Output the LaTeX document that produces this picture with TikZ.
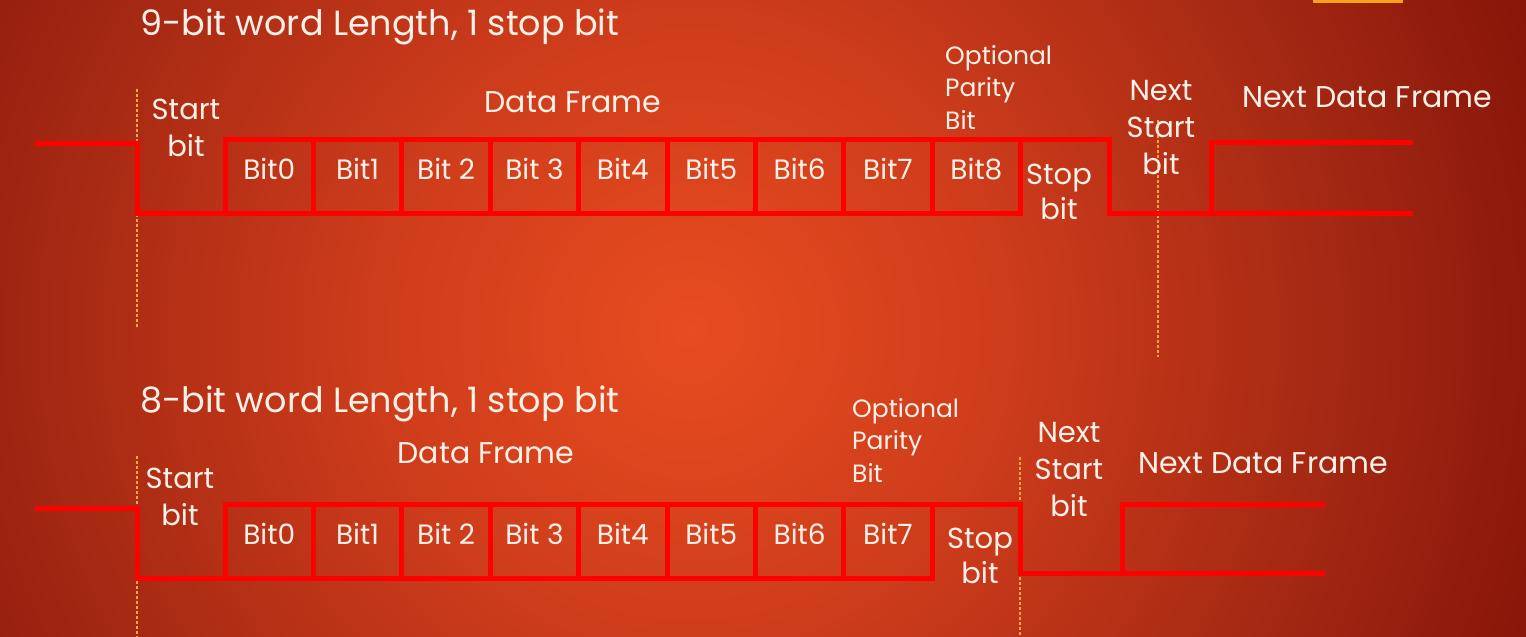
\documentclass[tikz,border=0pt]{standalone}
\usepackage{fontspec}
\setmainfont{Poppins}
\definecolor{sigred}{RGB}{255,0,0}
\definecolor{ink}{RGB}{253,240,230}
\definecolor{guidecol}{RGB}{245,165,70}
\definecolor{tabcol}{RGB}{247,161,26}
\definecolor{bgA}{RGB}{232,76,32}
\definecolor{bgB}{RGB}{205,60,27}
\definecolor{bgC}{RGB}{160,38,18}
\definecolor{bgD}{RGB}{135,21,8}
\pgfdeclareradialshading{slide}{\pgfpoint{0bp}{0bp}}{color(0bp)=(bgA); color(8bp)=(bgB); color(17bp)=(bgC); color(22.5bp)=(bgD); color(50bp)=(bgD)}
\newcommand{\txtsize}[2]{\fontsize{#1}{#2}\selectfont}
\begin{document}
\begin{tikzpicture}[x=1pt,y=-1pt,
    sig/.style={sigred,line width=5pt},
    guide/.style={guidecol,line width=1.2pt,dash pattern=on 3pt off 2pt},
    lbl/.style={text=ink,inner sep=0pt,align=center},
    bitbox/.style={draw=sigred,line width=5pt,minimum width=88.4pt,minimum height=74pt,
        inner sep=0pt,outer sep=0pt,text=ink,font=\txtsize{28}{34},text height=22pt,text depth=16pt}]
    \useasboundingbox (0,0) rectangle (1526,637);
    \begin{scope}
        \clip (0,0) rectangle (1526,637);
        \shade[shading=slide] (690,330) circle (1000);
    \end{scope}
    \fill[tabcol] (1313,0) rectangle (1403,3);

    % 9 data bits
    \coordinate (A0) at (35,143);
    \coordinate (A1) at (137,143);
    \coordinate (A2) at (137,213);
    \coordinate (A3) at (1109,139);
    \coordinate (A4) at (1109,213);
    \coordinate (A5) at (1211,213);
    \coordinate (A6) at (1211,142);
    \coordinate (A7) at (1413,142);
    \coordinate (A8) at (1413,213);
    \coordinate (G1) at (137,89);
    \coordinate (G2) at (137,327);
    \coordinate (G3) at (1158,120);
    \coordinate (G4) at (1158,357);

    \draw[guide] (G1) -- (G2);
    \draw[guide] (G3) -- (G4);
    \foreach \t [count=\i from 0] in {Bit0,Bit1,Bit 2,Bit 3,Bit4,Bit5,Bit6,Bit7,Bit8}
        \node[bitbox] (a\i) at ({269.2+88.4*\i},176) {\t};
    \draw[sig] (A0) -- (A1) -- (A2) -- (a0.south west);
    \draw[sig] (a8.north east) -- (A3) -- (A4) -- (A5) -- (A6) -- (A7);
    \draw[sig] (A5) -- (A8);

    \node[lbl,anchor=base west,font=\txtsize{35}{40}] (t9) at (140,35) {9-bit word Length, 1 stop bit};
    \node[lbl,anchor=base,font=\txtsize{30}{36}] (df9) at (573,112) {Data Frame};
    \node[lbl,font=\txtsize{29}{37}] (sb9) at (186,127.5) {Start\\bit};
    \node[lbl,anchor=west,align=left,font=\txtsize{25}{32.5}] (par9) at (945,87) {Optional\\Parity\\Bit};
    \node[lbl,font=\txtsize{29}{35}] (stop9) at (1059,191.5) {Stop\\bit};
    \node[lbl,font=\txtsize{29}{37}] (nsb9) at (1161,127.5) {Next\\Start\\bit};
    \node[lbl,anchor=base west,font=\txtsize{30}{36}] (ndf9) at (1242,107) {Next Data Frame};

    % 8 data bits
    \coordinate (B0) at (35,508);
    \coordinate (B1) at (137,508);
    \coordinate (B2) at (137,578);
    \coordinate (B3) at (1020,504);
    \coordinate (B4) at (1020,573);
    \coordinate (B5) at (1122,573);
    \coordinate (B6) at (1122,504);
    \coordinate (B7) at (1325,504);
    \coordinate (B8) at (1325,573);
    \coordinate (H1) at (137,456);
    \coordinate (H2) at (137,637);
    \coordinate (H3) at (1020,457);
    \coordinate (H4) at (1020,637);

    \draw[guide] (H1) -- (H2);
    \draw[guide] (H3) -- (H4);
    \foreach \t [count=\i from 0] in {Bit0,Bit1,Bit 2,Bit 3,Bit4,Bit5,Bit6,Bit7}
        \node[bitbox] (b\i) at ({269.2+88.4*\i},541) {\t};
    \draw[sig] (B0) -- (B1) -- (B2) -- (b0.south west);
    \draw[sig] (b7.north east) -- (B3) -- (B4) -- (B5) -- (B6) -- (B7);
    \draw[sig] (B5) -- (B8);

    \node[lbl,anchor=base west,font=\txtsize{35}{40}] (t8) at (140,412) {8-bit word Length, 1 stop bit};
    \node[lbl,anchor=base,font=\txtsize{30}{36}] (df8) at (486,463) {Data Frame};
    \node[lbl,font=\txtsize{29}{37}] (sb8) at (180,496.5) {Start\\bit};
    \node[lbl,anchor=west,align=left,font=\txtsize{25}{32.5}] (par8) at (852,440) {Optional\\Parity\\Bit};
    \node[lbl,font=\txtsize{29}{35}] (stop8) at (980,555.5) {Stop\\bit};
    \node[lbl,font=\txtsize{29}{37}] (nsb8) at (1069,469.5) {Next\\Start\\bit};
    \node[lbl,anchor=base west,font=\txtsize{30}{36}] (ndf8) at (1138,473) {Next Data Frame};
\end{tikzpicture}
\end{document}
